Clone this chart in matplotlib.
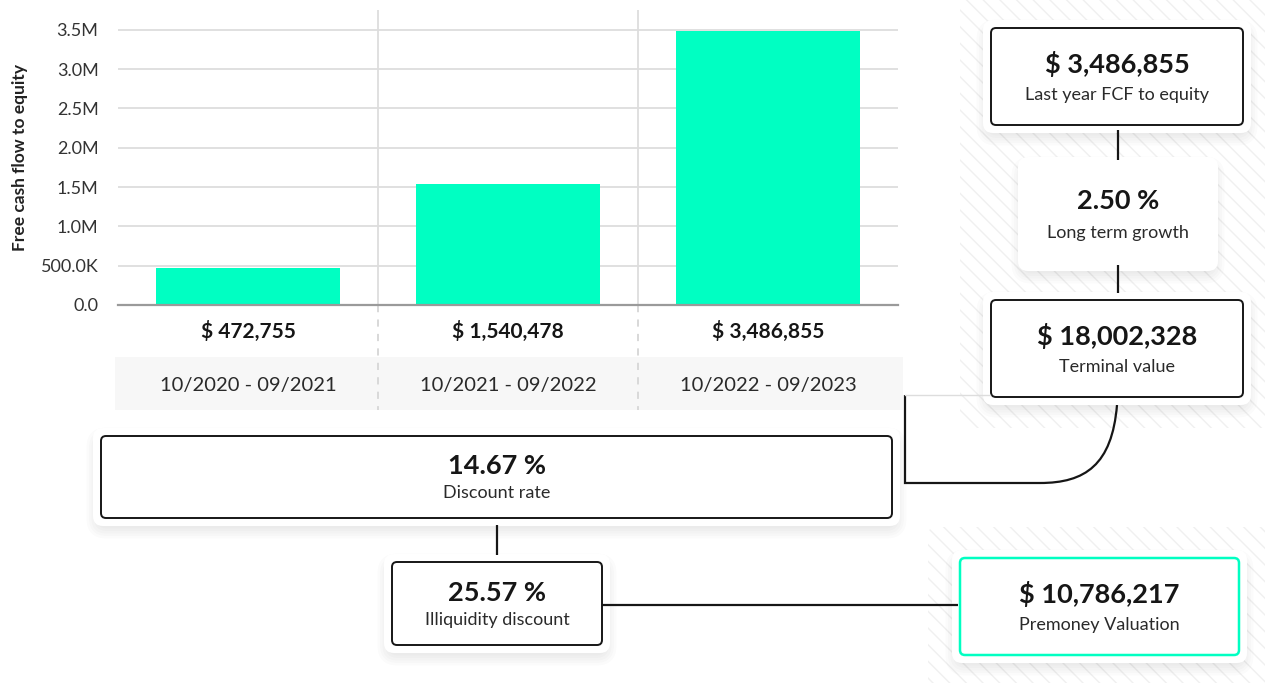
import matplotlib
matplotlib.use("Agg")
import matplotlib.pyplot as plt
from matplotlib.patches import FancyBboxPatch, Rectangle, PathPatch
from matplotlib.path import Path
from matplotlib.transforms import blended_transform_factory

plt.rcParams['font.family'] = ['Lato', 'DejaVu Sans']

# data
periods = ["10/2020 - 09/2021", "10/2021 - 09/2022", "10/2022 - 09/2023"]
fcf = [472755, 1540478, 3486855]
yticks = [0, 500000, 1000000, 1500000, 2000000, 2500000, 3000000, 3500000]
ytick_labels = ["0.0", "500.0K", "1.0M", "1.5M", "2.0M", "2.5M", "3.0M", "3.5M"]

last_fcf = "$ 3,486,855"
growth = "2.50 %"
terminal = "$ 18,002,328"
discount = "14.67 %"
illiquidity = "25.57 %"
premoney = "$ 10,786,217"

GREEN = "#00ffc2"
DARK = "#161616"
W, H = 1265, 683

fig = plt.figure(figsize=(W / 100, H / 100), dpi=100)
bg = fig.add_axes([0, 0, 1, 1], zorder=0)
bg.set_xlim(0, W)
bg.set_ylim(H, 0)
bg.axis("off")

# hatched panels on the right
for x0, y0, w, h in [(960, -5, 310, 433), (928, 527, 340, 160)]:
    bg.add_patch(FancyBboxPatch((x0, y0), w, h, boxstyle="round,pad=0,rounding_size=8",
                                facecolor="white", edgecolor="#f0f0f0", lw=0,
                                hatch="\\\\"))


def card(x0, y0, x1, y1, big, small, edge=DARK, lw=1.4):
    for i in range(6):
        p = 2 + i * 2.5
        bg.add_patch(FancyBboxPatch((x0 - p, y0 - p + 6), x1 - x0 + 2 * p, y1 - y0 + 2 * p,
                                    boxstyle="round,pad=0,rounding_size=%d" % (6 + p),
                                    facecolor="black", edgecolor="none", alpha=0.016))
    bg.add_patch(FancyBboxPatch((x0 - 8, y0 - 8), x1 - x0 + 16, y1 - y0 + 16,
                                boxstyle="round,pad=0,rounding_size=10",
                                facecolor="white", edgecolor="none"))
    bg.add_patch(FancyBboxPatch((x0, y0), x1 - x0, y1 - y0,
                                boxstyle="round,pad=0,rounding_size=5",
                                facecolor="white", edgecolor=edge, lw=lw))
    h = y1 - y0
    xc = (x0 + x1) / 2
    bg.text(xc, y0 + 0.37 * h, big, ha="center", va="center", fontsize=19.5,
            fontweight="bold", color=DARK)
    bg.text(xc, y0 + 0.695 * h, small, ha="center", va="center", fontsize=13,
            color="#2a2a2a")


# connectors
lk = dict(color=DARK, lw=1.6, solid_capstyle="butt")
bg.plot([1118, 1118], [130, 160], **lk)
bg.plot([1118, 1118], [265, 293], **lk)
bg.plot([497, 497], [525, 555], **lk)
bg.plot([602, 958], [605, 605], **lk)
bg.plot([905, 990], [395, 395], color="#dddddd", lw=1)
curve = Path([(1117, 405), (1112, 465), (1085, 483), (1040, 483), (905, 483), (905, 395)],
             [Path.MOVETO, Path.CURVE4, Path.CURVE4, Path.CURVE4, Path.LINETO, Path.LINETO])
bg.add_patch(PathPatch(curve, facecolor="none", edgecolor=DARK, lw=1.6))

card(991, 28, 1243, 125, last_fcf, "Last year FCF to equity")
card(1026, 165, 1210, 263, growth, "Long term growth", edge="none", lw=0)
card(991, 300, 1243, 397, terminal, "Terminal value")
card(101, 436, 892, 518, discount, "Discount rate")
card(392, 562, 602, 645, illiquidity, "Illiquidity discount")
card(960, 558, 1239, 655, premoney, "Premoney Valuation", edge=GREEN, lw=1.8)

# bar chart
ax = fig.add_axes([118 / W, 1 - 305 / H, 780 / W, 295 / H], zorder=2)
ax.set_facecolor("none")
x = list(range(len(fcf)))
ax.bar(x, fcf, width=0.71, color=GREEN, zorder=2)
ax.set_xlim(-0.5, 2.5)
ax.set_ylim(0, 3750000)
ax.set_yticks(yticks)
ax.set_yticklabels(ytick_labels, fontsize=13, color="#333333")
ax.set_xticks([])
ax.tick_params(axis="y", length=0, pad=14)
ax.grid(axis="y", color="#dddddd", lw=1.3, zorder=0)
for s in ["top", "right", "left"]:
    ax.spines[s].set_visible(False)
ax.spines["bottom"].set_color("#9a9a9a")
ax.spines["bottom"].set_linewidth(1.6)
ax.spines["bottom"].set_zorder(3)
ax.set_ylabel("Free cash flow to equity", fontsize=12.5, fontweight="bold",
              color="#222222")
ax.yaxis.set_label_coords(-0.116, 0.5)

tr = blended_transform_factory(ax.transData, ax.transAxes)
ax.add_patch(Rectangle((-0.51, -0.356), 3.03, 0.18, transform=tr, facecolor="#f7f7f7",
                       edgecolor="none", clip_on=False, zorder=0))
for b in [0.5, 1.5]:
    ax.axvline(b, color="#dddddd", lw=1.3, zorder=1)
    ax.plot([b, b], [0, -0.356], transform=tr, color="#d6d6d6", lw=1.3,
            ls=(0, (4, 4)), clip_on=False, zorder=1)
for i, v in enumerate(fcf):
    ax.text(i, -0.088, "$ {:,}".format(v), transform=tr, ha="center", va="center",
            fontsize=15, fontweight="bold", color=DARK)
    ax.text(i, -0.272, periods[i], transform=tr, ha="center", va="center",
            fontsize=14.5, color="#2a2a2a")

fig.savefig("out.png", dpi=100)
